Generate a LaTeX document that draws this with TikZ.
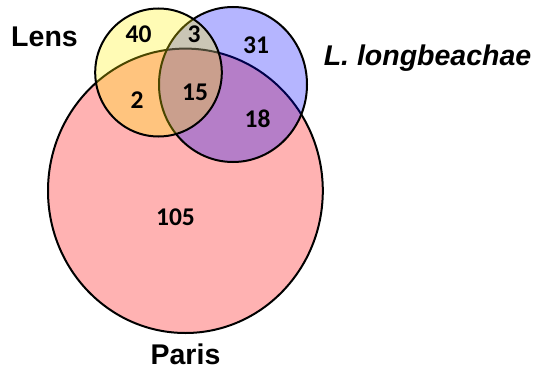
\documentclass[tikz,border=0pt]{standalone}
\usepackage{fontspec}
\setmainfont{Liberation Sans}
\newfontfamily\numfont{Carlito}
\begin{document}
\begin{tikzpicture}[x=1pt,y=-1pt,
  setline/.style={line width=2pt, draw=black},
  num/.style={font=\numfont\bfseries\fontsize{25.5}{26}\selectfont, inner sep=0pt, anchor=base},
  lab/.style={font=\bfseries\fontsize{28.5}{30}\selectfont, inner sep=0pt, anchor=base}]
\useasboundingbox (0,0) rectangle (533,369);
% Paris
\draw[setline, fill=red, fill opacity=0.3] (185.4,190.8) ellipse [x radius=137.4pt, y radius=142.2pt];
% L. longbeachae
\draw[setline, fill=blue, fill opacity=0.29] (233,84.5) ellipse [x radius=74pt, y radius=77.5pt];
% Lens
\draw[setline, fill=yellow, fill opacity=0.29] (158.5,72.5) ellipse [x radius=63.3pt, y radius=64pt];
% labels
\node[lab] (lens) at (44.5,46.7) {Lens};
\node[lab] (longb) at (427.5,66) {\itshape L. longbeachae};
\node[lab] (paris) at (185.5,364) {Paris};
% counts
\node[num] (n40) at (138.5,43) {40};
\node[num] (n3) at (194,43) {3};
\node[num] (n31) at (256,54) {31};
\node[num] (n2) at (137,108) {2};
\node[num] (n15) at (195,100) {15};
\node[num] (n18) at (257.5,127) {18};
\node[num] (n105) at (175.5,225.7) {105};
\end{tikzpicture}
\end{document}
